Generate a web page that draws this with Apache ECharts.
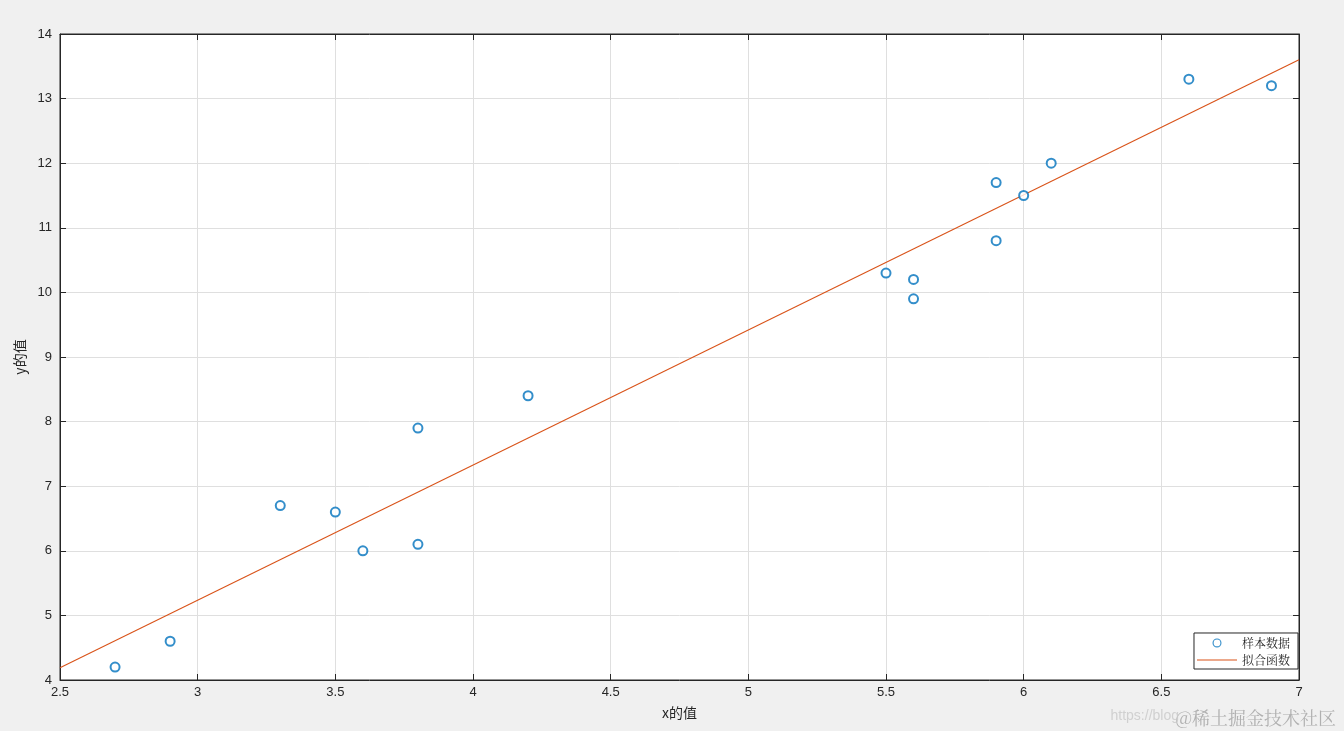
<!DOCTYPE html>
<html><head><meta charset="utf-8">
<script src="https://cdn.jsdelivr.net/npm/echarts@6/dist/echarts.min.js"></script>
<style>html,body{margin:0;padding:0;background:#f0f0f0}#c{width:1344px;height:731px}</style>
</head><body><div id="c"></div>
<script>
const xData = [2.7, 2.9, 3.3, 3.5, 3.6, 3.8, 3.8, 4.2, 5.5, 5.6, 5.6, 5.9, 5.9, 6.0, 6.1, 6.6, 6.9];
const yData = [4.2, 4.6, 6.7, 6.6, 6.0, 7.9, 6.1, 8.4, 10.3, 10.2, 9.9, 11.7, 10.8, 11.5, 12.0, 13.3, 13.2];
const fitX = [2.5, 7];
const fitY = [4.19, 13.6];
const seriesNames = ['样本数据', '拟合函数'];

const chart = echarts.init(document.getElementById('c'));
const numFont = 'Liberation Sans, Arial, sans-serif';
const axisCommon = {
  axisLine: {show: true, onZero: false, lineStyle: {color: '#262626', width: 1}},
  axisTick: {show: true, inside: true, length: 6, lineStyle: {color: '#262626'}},
};
chart.setOption({
  backgroundColor: '#f0f0f0',
  animation: false,
  grid: {left: 60, right: 45, top: 34, bottom: 51, show: true, backgroundColor: '#ffffff', borderColor: '#262626', borderWidth: 1},
  xAxis: [{
    type: 'value', min: 2.5, max: 7, interval: 0.5,
    name: 'x的值', nameLocation: 'middle', nameGap: 26,
    nameTextStyle: {color: '#262626', fontSize: 14, fontFamily: 'Noto Sans CJK SC'},
    axisLabel: {color: '#262626', fontSize: 13, fontFamily: numFont, margin: 6},
    splitLine: {show: true, lineStyle: {color: '#dfdfdf'}},
    ...axisCommon
  }, {
    type: 'value', min: 2.5, max: 7, interval: 0.5, position: 'top',
    axisLabel: {show: false}, splitLine: {show: false}, ...axisCommon
  }],
  yAxis: [{
    type: 'value', min: 4, max: 14, interval: 1,
    name: 'y的值', nameLocation: 'middle', nameGap: 30,
    nameTextStyle: {color: '#262626', fontSize: 14, fontFamily: 'Noto Sans CJK SC'},
    axisLabel: {color: '#262626', fontSize: 13, fontFamily: numFont, margin: 8},
    splitLine: {show: true, lineStyle: {color: '#dfdfdf'}},
    ...axisCommon
  }, {
    type: 'value', min: 4, max: 14, interval: 1, position: 'right',
    axisLabel: {show: false}, splitLine: {show: false}, ...axisCommon
  }],
  legend: {
    right: 46, bottom: 62, orient: 'vertical',
    backgroundColor: '#ffffff', borderColor: '#262626', borderWidth: 1, borderRadius: 0,
    padding: [4, 8, 3, 3], itemGap: 5, itemWidth: 40, itemHeight: 9,
    textStyle: {color: '#262626', fontSize: 12, fontFamily: 'Noto Serif CJK SC, Noto Sans CJK SC'},
    data: [
      {name: seriesNames[0], icon: 'path://M20,0A4,4,0,1,1,19.99,0ZM20,1A3,3,0,1,0,20.01,1Z', itemStyle: {color: '#0072BD', borderWidth: 0}},
      {name: seriesNames[1], icon: 'path://M0,0L40,0L40,1.2L0,1.2Z', itemStyle: {color: '#D95319', borderWidth: 0}}
    ]
  },
  series: [{
    name: seriesNames[0], type: 'scatter', symbol: 'emptyCircle', symbolSize: 9,
    itemStyle: {color: '#0072BD', borderColor: '#0072BD', borderWidth: 1},
    data: xData.map((x, i) => [x, yData[i]]), z: 3
  }, {
    name: seriesNames[1], type: 'line', symbol: 'none', showSymbol: false,
    lineStyle: {color: '#D95319', width: 1.1}, itemStyle: {color: '#D95319'},
    data: fitX.map((x, i) => [x, fitY[i]]), z: 2
  }],
  graphic: [{
    type: 'text', right: 8, bottom: 4,
    style: {text: '@稀土掘金技术社区', fontSize: 18, fontFamily: 'Noto Serif CJK SC, Noto Sans CJK SC', fill: 'rgba(160,160,160,0.8)'}
  }, {
    type: 'text', right: 165, bottom: 8,
    style: {text: 'https://blog', fontSize: 14, fontFamily: numFont, fill: 'rgba(200,200,200,0.8)'}
  }]
});
</script></body></html>
